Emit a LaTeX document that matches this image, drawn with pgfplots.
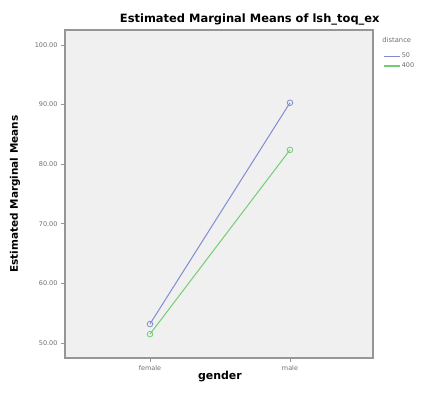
\documentclass[border=0pt]{standalone}
\usepackage{pgfplots}
\pgfplotsset{compat=1.18}
\usepackage{fontspec}
\setmainfont{DejaVu Sans}
\definecolor{panelbg}{RGB}{240,240,240}
\definecolor{frame}{RGB}{150,150,150}
\definecolor{ticktxt}{RGB}{110,110,110}
\definecolor{serA}{RGB}{130,140,210}
\definecolor{serB}{RGB}{115,205,115}
\begin{document}
\begin{tikzpicture}[x=1bp,y=1bp]
\begin{axis}[
  at={(0,0)}, anchor=south west,
  scale only axis,
  width=308bp, height=328bp,
  xmin=-0.607, xmax=1.593,
  ymin=47.5, ymax=102.5,
  xtick={0,1}, xticklabels={female,male},
  ytick={50,60,70,80,90,100},
  yticklabel style={/pgf/number format/.cd,fixed,fixed zerofill,precision=2},
  /pgf/number format/assume math mode=true,
  tick label style={font=\fontsize{6.5}{7}\selectfont, text=ticktxt},
  tick align=outside, tick pos=left,
  major tick length=4bp,
  every tick/.style={frame, line width=0.8pt},
  axis line style={frame, line width=1.2pt},
  axis background/.style={fill=panelbg},
  title={\textbf{Estimated Marginal Means of lsh\_toq\_ex}},
  title style={font=\fontsize{11.5}{13}\selectfont,
    at={(axis description cs:0.6,1.014)}, anchor=center},
  xlabel={\textbf{gender}},
  ylabel={\textbf{Estimated Marginal Means}},
  xlabel style={font=\fontsize{11}{13}\selectfont,
    at={(axis description cs:0.503,-0.055)}, anchor=center},
  ylabel style={font=\fontsize{10.5}{12}\selectfont,
    at={(axis description cs:-0.162,0.5)}, anchor=center},
  legend style={at={(1.032,0.935)}, anchor=north west, draw=none, fill=none,
    font=\fontsize{6.5}{7}\selectfont, text=ticktxt, row sep=0.5bp,
    inner sep=0pt, nodes={inner sep=1.5bp}},
  legend cell align=left,
  legend image code/.code={\draw[#1, mark=none, line width=1.3pt] (0bp,0bp) -- (16bp,0bp);},
  clip=false,
]
\addplot[serA, line width=1pt, mark=o, mark size=2.8bp, mark options={line width=0.8pt}]
  coordinates {(0,53.2) (1,90.3)};
\addlegendentry{50}
\addplot[serB, line width=1pt, mark=o, mark size=2.8bp, mark options={line width=0.8pt}]
  coordinates {(0,51.5) (1,82.4)};
\addlegendentry{400}
\node[anchor=west, font=\fontsize{6.8}{7}\selectfont, text=ticktxt, inner sep=0pt]
  at (rel axis cs:1.03,0.97) {distance};
\end{axis}
\path[use as bounding box] (-65,-36) rectangle (359,358);
\end{tikzpicture}
\end{document}
